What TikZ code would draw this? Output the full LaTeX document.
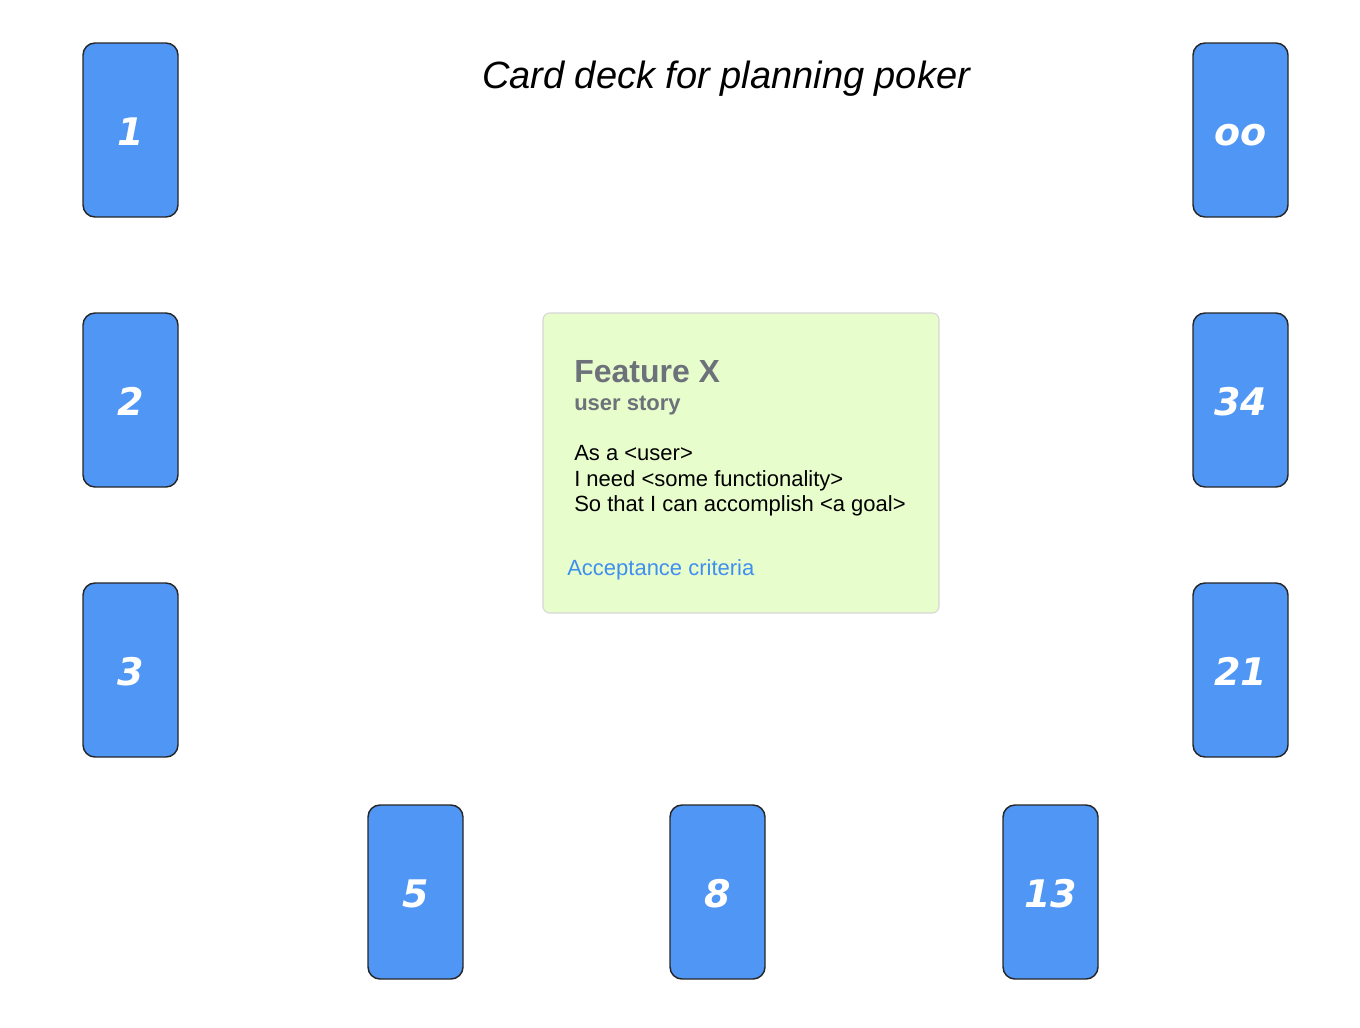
\documentclass[tikz,border=0pt]{standalone}
\usepackage{fontspec}
\setmainfont{Liberation Sans}
\newfontfamily\cardfont{DejaVu Sans}
\definecolor{cardblue}{HTML}{5096F5}
\definecolor{storygreen}{HTML}{E8FDCC}
\definecolor{storyline}{HTML}{D6D6D6}
\definecolor{storygray}{HTML}{6C717A}
\definecolor{linkblue}{HTML}{3F8FF0}
\tikzset{
    card/.style={draw=black!85, line width=1.1pt, fill=cardblue, rounded corners=9pt,
        minimum width=71.25pt, minimum height=130.5pt, inner sep=0pt,
        text height=23pt, text depth=0pt,
        text=white, font=\cardfont\bfseries\itshape\fontsize{28.5}{30}\selectfont},
    storytext/.style={anchor=base west, inner sep=0pt, font=\fontsize{16.5}{19}\selectfont}
}
\begin{document}
\begin{tikzpicture}[x=0.75pt,y=-0.75pt]
    \useasboundingbox (0,0) rectangle (1360,1028);

    \node[anchor=base, inner sep=0pt, font=\itshape\fontsize{28.5}{32}\selectfont] (title) at (726,88) {Card deck for planning poker};

    % left column
    \node[card] (card1) at (130.5,130) {1};
    \node[card] (card2) at (130.5,400) {2};
    \node[card] (card3) at (130.5,670) {3};
    % bottom row
    \node[card] (card5) at (415.5,892) {5};
    \node[card] (card8) at (717.5,892) {8};
    \node[card] (card13) at (1050.5,892) {13};
    % right column
    \node[card] (card21) at (1240.5,670) {21};
    \node[card] (card34) at (1240.5,400) {34};
    \node[card] (cardInf) at (1240.5,130) {oo};

    % user story in the middle
    \draw[draw=storyline, fill=storygreen, line width=0.8pt, rounded corners=5pt] (543,313) rectangle (939,613);
    \node[storytext, text=storygray, font=\bfseries\fontsize{24}{27}\selectfont] (feature) at (574,382) {Feature X};
    \node[storytext, text=storygray, font=\bfseries\fontsize{16.5}{19}\selectfont] (kind) at (574,410) {user story};
    \node[storytext] (asA) at (574,460) {As a <user>};
    \node[storytext] (iNeed) at (574,486) {I need <some functionality>};
    \node[storytext] (soThat) at (574,511) {So that I can accomplish <a goal>};
    \node[storytext, text=linkblue] (criteria) at (567,575) {Acceptance criteria};
\end{tikzpicture}
\end{document}
